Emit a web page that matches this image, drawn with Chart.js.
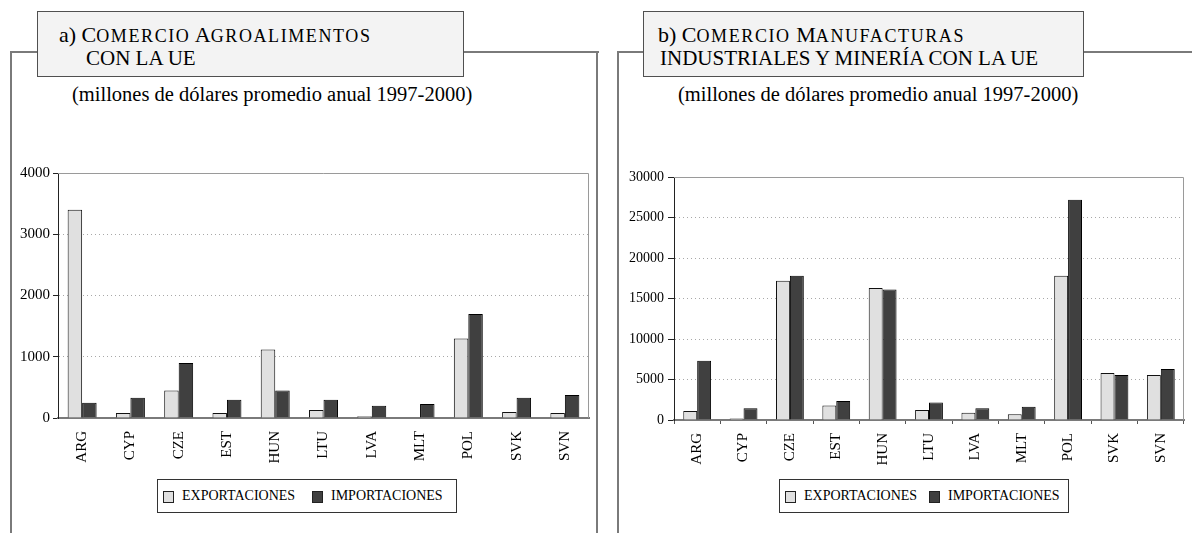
<!DOCTYPE html>
<html>
<head>
<meta charset="utf-8">
<script src="https://cdn.jsdelivr.net/npm/chart.js@4.4.0/dist/chart.umd.min.js"></script>
<style>
  html, body { margin:0; padding:0; background:#fff; }
  body { width:1192px; height:533px; position:relative; overflow:hidden; font-family:"Liberation Serif", "Times New Roman", serif; color:#000; }
  .ln { position:absolute; background:#7a7a7a; }
  .tbox { position:absolute; box-sizing:border-box; background:#f3f3f3; border:1px solid #505050; }
  .tl { position:absolute; white-space:nowrap; line-height:22px; }
  .big { font-size:22px; }
  .sc { font-size:18px; letter-spacing:1.6px; }
  .sub { position:absolute; font-size:20.5px; line-height:20px; white-space:nowrap; }
  .leg { position:absolute; box-sizing:border-box; border:1px solid #333; background:#fff; height:34px; top:479px; font-size:14px; }
  .sw { position:absolute; width:9px; height:10px; border:1px solid #222; top:11px; }
  .lt { position:absolute; top:9px; line-height:14px; white-space:nowrap; }
  canvas { position:absolute; }
</style>
</head>
<body>
<!-- left panel frame -->
<div class="ln" style="left:10px;top:51px;width:2px;height:482px"></div>
<div class="ln" style="left:10px;top:51px;width:28px;height:2px"></div>
<div class="ln" style="left:462px;top:51px;width:137px;height:2px"></div>
<div class="ln" style="left:596px;top:51px;width:2px;height:482px"></div>
<div class="tbox" style="left:37px;top:11px;width:427px;height:66px">
  <div class="tl big" style="left:21px;top:12px">a) C<span class="sc">OMERCIO</span> A<span class="sc">GROALIMENTOS</span></div>
  <div class="tl big" style="left:48px;top:35px;font-size:21px">CON LA UE</div>
</div>
<div class="sub" style="left:72px;top:84px">(millones de dólares promedio anual 1997-2000)</div>

<!-- right panel frame -->
<div class="ln" style="left:617px;top:51px;width:2px;height:482px"></div>
<div class="ln" style="left:617px;top:51px;width:27px;height:2px"></div>
<div class="ln" style="left:1082px;top:51px;width:110px;height:2px"></div>
<div class="tbox" style="left:643px;top:11px;width:441px;height:66px">
  <div class="tl big" style="left:14px;top:12px">b) C<span class="sc">OMERCIO</span> M<span class="sc">ANUFACTURAS</span></div>
  <div class="tl big" style="left:16px;top:35px;font-size:21px">INDUSTRIALES Y MINERÍA CON LA UE</div>
</div>
<div class="sub" style="left:678px;top:84px">(millones de dólares promedio anual 1997-2000)</div>

<canvas id="c1" style="left:0px;top:160px"></canvas>
<canvas id="c2" style="left:620px;top:160px"></canvas>

<div class="leg" style="left:157px;width:300px">
  <div class="sw" style="left:5px;background:#e0e0e0"></div><div class="lt" style="left:24px" id="l1a"></div>
  <div class="sw" style="left:154px;background:#404040"></div><div class="lt" style="left:173px" id="l1b"></div>
</div>
<div class="leg" style="left:779px;width:290px">
  <div class="sw" style="left:5px;background:#e0e0e0"></div><div class="lt" style="left:24px" id="l2a"></div>
  <div class="sw" style="left:149px;background:#404040"></div><div class="lt" style="left:168px" id="l2b"></div>
</div>

<script>
const categories = ['ARG','CYP','CZE','EST','HUN','LTU','LVA','MLT','POL','SVK','SVN'];
const seriesNames = ['EXPORTACIONES','IMPORTACIONES'];
const agroExports = [3400, 80, 450, 80, 1120, 130, 30, 0, 1300, 100, 80];
const agroImports = [250, 330, 900, 300, 450, 300, 200, 230, 1700, 330, 375];
const manufExports = [1100, 200, 17200, 1800, 16300, 1250, 900, 700, 17800, 5800, 5550];
const manufImports = [7300, 1450, 17800, 2350, 16100, 2150, 1450, 1650, 27200, 5550, 6300];
const agroTicks = [0, 1000, 2000, 3000, 4000];
const manufTicks = [0, 5000, 10000, 15000, 20000, 25000, 30000];

document.getElementById('l1a').textContent = seriesNames[0];
document.getElementById('l1b').textContent = seriesNames[1];
document.getElementById('l2a').textContent = seriesNames[0];
document.getElementById('l2b').textContent = seriesNames[1];

const SERIF = "'Liberation Serif', 'Times New Roman', serif";

const plotBorder = {
  id: 'plotBorder',
  beforeDatasetsDraw(chart) {
    const {ctx, chartArea:a} = chart;
    ctx.save();
    ctx.strokeStyle = '#9a9a9a';
    ctx.lineWidth = 1;
    ctx.beginPath();
    ctx.moveTo(a.left, a.top + 0.5);
    ctx.lineTo(a.right - 0.5, a.top + 0.5);
    ctx.lineTo(a.right - 0.5, a.bottom);
    ctx.stroke();
    ctx.restore();
  }
};

function makeChart(id, w, h, exp, imp, ticks, yWidth, padTop, padRight, xHeight, tickFont, yTickLen, yPad, xTicks) {
  const cv = document.getElementById(id);
  cv.width = w; cv.height = h;
  cv.style.width = w + 'px'; cv.style.height = h + 'px';
  const maxV = ticks[ticks.length - 1];
  return new Chart(cv, {
    type: 'bar',
    data: {
      labels: categories,
      datasets: [
        { label: seriesNames[0], data: exp, backgroundColor: '#e0e0e0', borderColor: '#111', borderWidth: 1,
          categoryPercentage: 0.6, barPercentage: 1.0 },
        { label: seriesNames[1], data: imp, backgroundColor: '#404040', borderColor: '#000', borderWidth: 1,
          categoryPercentage: 0.6, barPercentage: 1.0 }
      ]
    },
    options: {
      responsive: false,
      animation: false,
      devicePixelRatio: 1,
      layout: { padding: { left: 0, top: padTop, right: padRight, bottom: 0 } },
      plugins: { legend: { display: false }, tooltip: { enabled: false }, title: { display: false } },
      scales: {
        x: {
          afterFit(s) { s.height = xHeight; },
          grid: { display: true, drawOnChartArea: false, drawTicks: xTicks, tickLength: 4, tickColor: '#555', offset: true },
          border: { display: true, color: '#7a7a7a', width: 2 },
          ticks: { autoSkip: false, minRotation: 90, maxRotation: 90, padding: xTicks ? 9 : 13, color: '#000',
                   font: { family: SERIF, size: 15 } }
        },
        y: {
          min: 0, max: maxV,
          afterFit(s) { s.width = yWidth; },
          afterBuildTicks(s) { s.ticks = ticks.map(v => ({ value: v })); },
          grid: {
            drawTicks: true, tickLength: yTickLen, tickColor: '#222', tickWidth: 1,
            color: (c) => (c.tick && (c.tick.value === 0 || c.tick.value === maxV)) ? 'rgba(0,0,0,0)' : '#a8a8a8',
            lineWidth: 1
          },
          border: { display: true, color: '#222', width: 1, dash: [1, 3] },
          ticks: { padding: yPad, color: '#000', font: { family: SERIF, size: tickFont },
                   callback: (v) => String(v) }
        }
      }
    },
    plugins: [plotBorder]
  });
}

makeChart('c1', 597, 373, agroExports, agroImports, agroTicks, 58, 13, 8, 115, 15, 5, 3, false);
makeChart('c2', 572, 373, manufExports, manufImports, manufTicks, 54, 17, 8, 113, 14, 6, 4, true);
</script>
</body>
</html>
